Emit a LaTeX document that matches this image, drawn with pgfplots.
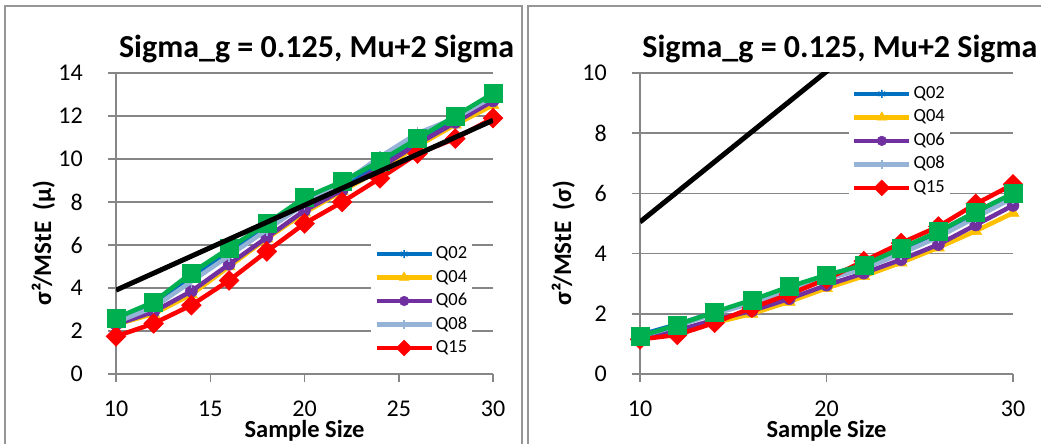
\documentclass[border=0pt]{standalone}
\usepackage{fontspec}
\setmainfont{Carlito}
\usepackage{pgfplots}
\pgfplotsset{compat=1.18}

\definecolor{qblue}{RGB}{0,112,192}
\definecolor{qyellow}{RGB}{255,192,0}
\definecolor{qpurple}{RGB}{112,48,160}
\definecolor{qlight}{RGB}{149,179,215}
\definecolor{qred}{RGB}{255,0,0}
\definecolor{qgreen}{RGB}{0,176,80}
\definecolor{gridgray}{RGB}{134,134,134}
\definecolor{framegray}{RGB}{150,150,150}

\pgfplotsset{
  every axis title shift=0pt,
  panel/.style={
    scale only axis, height=301pt,
    xmin=10, xmax=30, ymin=0,
    axis lines*=left,
    axis line style={gridgray, line width=1.5pt},
    ymajorgrids, grid style={gridgray, line width=1.5pt},
    tick style={gridgray, line width=1.5pt},
    tick align=outside, major tick length=8pt,
    minor tick num=0,
    /pgf/number format/assume math mode=true,
    tick label style={font=\fontsize{24}{24}\selectfont, text=black, inner sep=0pt},
    xticklabel style={yshift=-19pt},
    yticklabel style={xshift=-25pt},
    title style={font=\bfseries\fontsize{32}{32}\selectfont, anchor=base},
    xlabel style={font=\bfseries\fontsize{24.5}{24.5}\selectfont, anchor=base, inner sep=0pt,
      at={(axis description cs:0.5,-0.211)}},
    ylabel style={font=\bfseries\fontsize{25}{25}\selectfont, anchor=base, inner sep=0pt},
    xlabel={Sample Size},
    clip mode=individual,
    legend cell align=left,
    legend style={draw=none, fill=white, font=\fontsize{18.5}{18.5}\selectfont,
      inner xsep=3pt, inner ysep=2pt, row sep=0pt,
      nodes={text height=12pt, text depth=3pt, inner ysep=4.25pt, inner xsep=2pt}},
    legend image code/.code={
      \draw[mark repeat=2, mark phase=2, every mark/.append style={scale=0.8}]
        plot coordinates {(0pt,0pt) (27.5pt,0pt) (55pt,0pt)};},
    every axis plot/.append style={line width=4.5pt},
  },
  sQa/.style={qblue, mark=asterisk, mark size=5pt, mark options={line width=1.5pt}},
  sQb/.style={qyellow, mark=triangle*, mark size=7pt, mark options={line width=0.5pt}},
  sQc/.style={qpurple, mark=*, mark size=6pt, mark options={line width=0.5pt}},
  sQd/.style={qlight, mark=|, mark size=6pt, mark options={line width=1.5pt}},
  sQe/.style={qred, mark=square*, mark size=7pt, mark options={rotate=45, line width=0.5pt}},
  sQg/.style={qgreen, mark=square*, mark size=9pt, mark options={line width=0.5pt}},
  sfit/.style={black, no marks, line width=5pt},
}

\begin{document}
\begin{tikzpicture}[x=1pt, y=1pt]
\path[use as bounding box] (0,0) rectangle (1041,444);
% chart frames
\draw[framegray, line width=2pt] (5,-10) -- (5,438) -- (522,438) -- (522,-10);
\draw[framegray, line width=2pt] (528,-10) -- (528,438) -- (1050,438);

% mean panel
\begin{axis}[panel, at={(116pt,70pt)}, anchor=south west, width=377pt,
  ymax=14, ytick={0,2,...,14}, xtick={10,15,20,25,30},
  title={Sigma\_g = 0.125, Mu+2 Sigma},
  title style={at={(axis description cs:0.532,1.053)}},
  ylabel={σ²/MStE~ (μ)},
  ylabel style={at={(axis description cs:-0.172,0.435)}},
  legend style={at={(axis description cs:0.677,0.445)}, anchor=north west}]
\addplot[sQa] coordinates {(10,2.5) (12,3.2) (14,4.5) (16,5.7) (18,6.85) (20,8.0) (22,8.8) (24,9.8) (26,10.8) (28,11.8) (30,12.8)};
\addlegendentry{Q02}
\addplot[sQb] coordinates {(10,2.3) (12,2.8) (14,3.7) (16,5.0) (18,6.3) (20,7.5) (22,8.5) (24,9.5) (26,10.6) (28,11.6) (30,12.5)};
\addlegendentry{Q04}
\addplot[sQc] coordinates {(10,2.3) (12,2.9) (14,3.85) (16,5.1) (18,6.35) (20,7.6) (22,8.55) (24,9.6) (26,10.7) (28,11.7) (30,12.7)};
\addlegendentry{Q06}
\addplot[sQd] coordinates {(10,2.4) (12,3.1) (14,4.3) (16,5.5) (18,6.7) (20,7.9) (22,8.85) (24,10.1) (26,11.2) (28,11.9) (30,12.9)};
\addlegendentry{Q08}
\addplot[sQe] coordinates {(10,1.75) (12,2.35) (14,3.2) (16,4.35) (18,5.7) (20,7.0) (22,8.0) (24,9.1) (26,10.25) (28,10.95) (30,11.9)};
\addlegendentry{Q15}
\addplot[sQg, forget plot] coordinates {(10,2.6) (12,3.35) (14,4.7) (16,5.85) (18,7.0) (20,8.2) (22,8.95) (24,9.9) (26,10.95) (28,12.0) (30,13.05)};
\addplot[sfit, forget plot] coordinates {(10,3.9) (30,11.8)};
\end{axis}

% standard deviation panel
\begin{axis}[panel, at={(640pt,70pt)}, anchor=south west, width=373pt,
  ymax=10, ytick={0,2,...,10}, xtick={10,20,30},
  title={Sigma\_g = 0.125, Mu+2 Sigma},
  title style={at={(axis description cs:0.536,1.053)}},
  ylabel={σ²/MStE~ (σ)},
  ylabel style={at={(axis description cs:-0.185,0.435)}},
  legend style={at={(axis description cs:0.56,0.977)}, anchor=north west}]
\addplot[sQa] coordinates {(10,1.3) (12,1.65) (14,2.05) (16,2.4) (18,2.85) (20,3.25) (22,3.6) (24,4.1) (26,4.65) (28,5.3) (30,5.95)};
\addlegendentry{Q02}
\addplot[sQb] coordinates {(10,1.2) (12,1.4) (14,1.7) (16,2.0) (18,2.4) (20,2.85) (22,3.25) (24,3.7) (26,4.2) (28,4.75) (30,5.35)};
\addlegendentry{Q04}
\addplot[sQc] coordinates {(10,1.2) (12,1.45) (14,1.8) (16,2.1) (18,2.5) (20,2.95) (22,3.35) (24,3.8) (26,4.3) (28,4.95) (30,5.6)};
\addlegendentry{Q06}
\addplot[sQd] coordinates {(10,1.25) (12,1.6) (14,2.0) (16,2.35) (18,2.75) (20,3.15) (22,3.5) (24,4.0) (26,4.55) (28,5.2) (30,5.85)};
\addlegendentry{Q08}
\addplot[sQe] coordinates {(10,1.15) (12,1.3) (14,1.7) (16,2.2) (18,2.65) (20,3.15) (22,3.75) (24,4.35) (26,4.9) (28,5.65) (30,6.3)};
\addlegendentry{Q15}
\addplot[sQg, forget plot] coordinates {(10,1.25) (12,1.63) (14,2.06) (16,2.46) (18,2.9) (20,3.29) (22,3.62) (24,4.18) (26,4.73) (28,5.39) (30,6.0)};
\addplot[sfit, forget plot] coordinates {(10,5.05) (30,15.05)};
\end{axis}
\end{tikzpicture}
\end{document}
